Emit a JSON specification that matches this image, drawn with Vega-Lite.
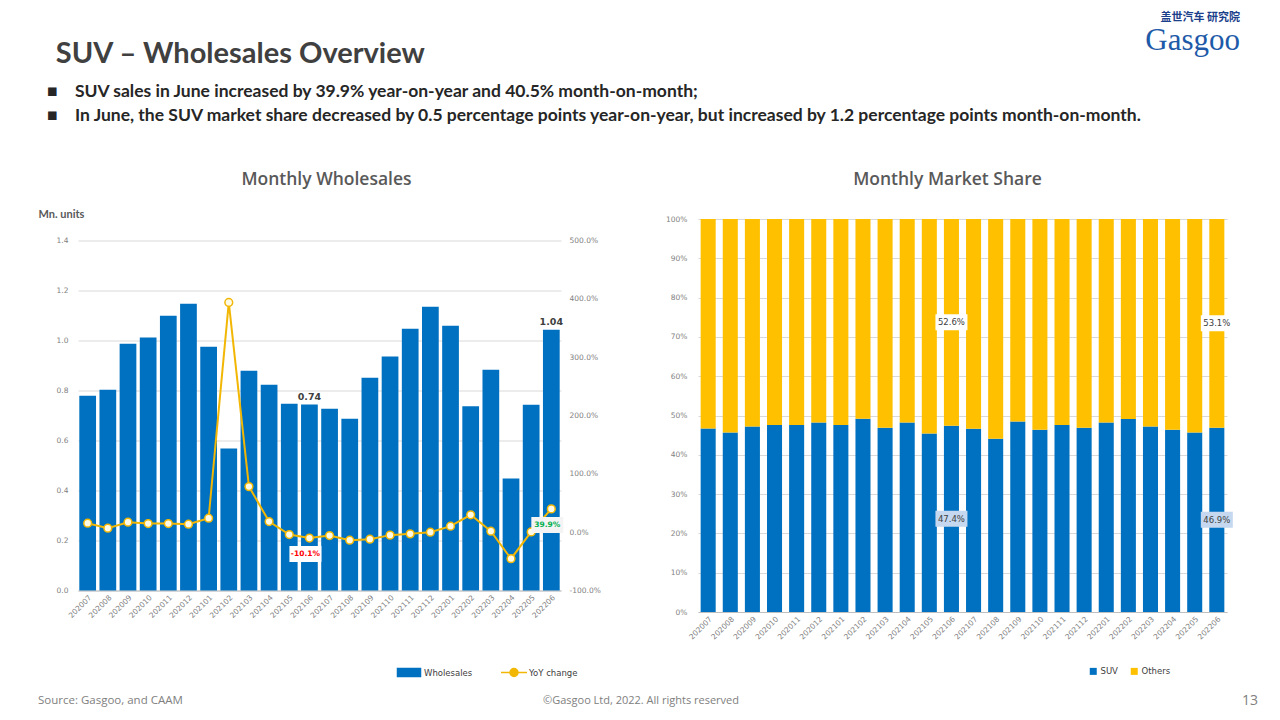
{
  "$schema": "https://vega.github.io/schema/vega-lite/v6.json",
  "background": "white",
  "padding": {"left": 38, "top": 12, "right": 10, "bottom": 5},
  "config": {
    "font": "Lato",
    "view": {"stroke": null},
    "axis": {"labelFont": "DejaVu Sans", "labelFontSize": 7.5, "labelColor": "#7F7F7F", "domain": false, "ticks": false, "gridColor": "#D9D9D9", "gridWidth": 1, "titleFont": "Lato", "labelOverlap": false},
    "legend": {"labelFont": "DejaVu Sans", "labelFontSize": 8.5, "labelColor": "#404040"}
  },
  "title": {
    "text": "\u76d6\u4e16\u6c7d\u8f66 \u7814\u7a76\u9662",
    "subtitle": "Gasgoo",
    "anchor": "end",
    "dx": -18,
    "offset": -16,
    "font": "Noto Sans CJK SC",
    "fontSize": 11,
    "fontWeight": "bold",
    "color": "#1B3F8B",
    "subtitleFont": "Liberation Serif",
    "subtitleFontSize": 31,
    "subtitleColor": "#1E5AA8",
    "subtitlePadding": 3,
    "subtitleLineHeight": 27
  },
  "datasets": {
    "wholesale": [
      {"month": "202007", "wholesales": 0.779, "yoy": 0.154},
      {"month": "202008", "wholesales": 0.803, "yoy": 0.068},
      {"month": "202009", "wholesales": 0.987, "yoy": 0.171},
      {"month": "202010", "wholesales": 1.012, "yoy": 0.147},
      {"month": "202011", "wholesales": 1.099, "yoy": 0.147},
      {"month": "202012", "wholesales": 1.147, "yoy": 0.137},
      {"month": "202101", "wholesales": 0.975, "yoy": 0.240},
      {"month": "202102", "wholesales": 0.568, "yoy": 3.938},
      {"month": "202103", "wholesales": 0.879, "yoy": 0.781},
      {"month": "202104", "wholesales": 0.823, "yoy": 0.182},
      {"month": "202105", "wholesales": 0.747, "yoy": -0.041},
      {"month": "202106", "wholesales": 0.744, "yoy": -0.101},
      {"month": "202107", "wholesales": 0.727, "yoy": -0.058},
      {"month": "202108", "wholesales": 0.687, "yoy": -0.137},
      {"month": "202109", "wholesales": 0.851, "yoy": -0.120},
      {"month": "202110", "wholesales": 0.936, "yoy": -0.051},
      {"month": "202111", "wholesales": 1.047, "yoy": -0.029},
      {"month": "202112", "wholesales": 1.135, "yoy": 0.000},
      {"month": "202201", "wholesales": 1.059, "yoy": 0.103},
      {"month": "202202", "wholesales": 0.737, "yoy": 0.298},
      {"month": "202203", "wholesales": 0.883, "yoy": 0.017},
      {"month": "202204", "wholesales": 0.448, "yoy": -0.455},
      {"month": "202205", "wholesales": 0.743, "yoy": 0.003},
      {"month": "202206", "wholesales": 1.043, "yoy": 0.399}
    ],
    "share": [
      {"month": "202007", "series": "SUV", "share": 0.467}, {"month": "202007", "series": "Others", "share": 0.533},
      {"month": "202008", "series": "SUV", "share": 0.457}, {"month": "202008", "series": "Others", "share": 0.543},
      {"month": "202009", "series": "SUV", "share": 0.472}, {"month": "202009", "series": "Others", "share": 0.528},
      {"month": "202010", "series": "SUV", "share": 0.476}, {"month": "202010", "series": "Others", "share": 0.524},
      {"month": "202011", "series": "SUV", "share": 0.476}, {"month": "202011", "series": "Others", "share": 0.524},
      {"month": "202012", "series": "SUV", "share": 0.482}, {"month": "202012", "series": "Others", "share": 0.518},
      {"month": "202101", "series": "SUV", "share": 0.476}, {"month": "202101", "series": "Others", "share": 0.524},
      {"month": "202102", "series": "SUV", "share": 0.492}, {"month": "202102", "series": "Others", "share": 0.508},
      {"month": "202103", "series": "SUV", "share": 0.469}, {"month": "202103", "series": "Others", "share": 0.531},
      {"month": "202104", "series": "SUV", "share": 0.482}, {"month": "202104", "series": "Others", "share": 0.518},
      {"month": "202105", "series": "SUV", "share": 0.454}, {"month": "202105", "series": "Others", "share": 0.546},
      {"month": "202106", "series": "SUV", "share": 0.474}, {"month": "202106", "series": "Others", "share": 0.526},
      {"month": "202107", "series": "SUV", "share": 0.466}, {"month": "202107", "series": "Others", "share": 0.534},
      {"month": "202108", "series": "SUV", "share": 0.441}, {"month": "202108", "series": "Others", "share": 0.559},
      {"month": "202109", "series": "SUV", "share": 0.485}, {"month": "202109", "series": "Others", "share": 0.515},
      {"month": "202110", "series": "SUV", "share": 0.464}, {"month": "202110", "series": "Others", "share": 0.536},
      {"month": "202111", "series": "SUV", "share": 0.476}, {"month": "202111", "series": "Others", "share": 0.524},
      {"month": "202112", "series": "SUV", "share": 0.469}, {"month": "202112", "series": "Others", "share": 0.531},
      {"month": "202201", "series": "SUV", "share": 0.482}, {"month": "202201", "series": "Others", "share": 0.518},
      {"month": "202202", "series": "SUV", "share": 0.491}, {"month": "202202", "series": "Others", "share": 0.509},
      {"month": "202203", "series": "SUV", "share": 0.472}, {"month": "202203", "series": "Others", "share": 0.528},
      {"month": "202204", "series": "SUV", "share": 0.464}, {"month": "202204", "series": "Others", "share": 0.536},
      {"month": "202205", "series": "SUV", "share": 0.457}, {"month": "202205", "series": "Others", "share": 0.543},
      {"month": "202206", "series": "SUV", "share": 0.469}, {"month": "202206", "series": "Others", "share": 0.531}
    ],
    "footer": [
      {"note": "Source: Gasgoo, and CAAM", "slot": "left"},
      {"note": "\u00a9Gasgoo Ltd,  2022. All rights reserved", "slot": "center"},
      {"note": "13", "slot": "right"}
    ]
  },
  "resolve": {"scale": {"color": "independent"}, "legend": {"color": "independent"}},
  "vconcat": [
    {
      "title": {
        "text": "\u200b\u00a0\u200aSUV \u2013 Wholesales Overview",
        "subtitle": [
          "\u25a0\u2003\u00a0SUV sales in June increased by 39.9% year-on-year and 40.5% month-on-month;",
          "\u25a0\u2003\u00a0In June, the SUV market share decreased by 0.5 percentage points year-on-year, but increased by 1.2 percentage points month-on-month."
        ],
        "anchor": "start",
        "dx": 9,
        "font": "Lato",
        "fontSize": 29,
        "fontWeight": "bold",
        "color": "#404040",
        "subtitleFont": "Lato",
        "subtitleFontSize": 17.5,
        "subtitleFontWeight": "bold",
        "subtitleColor": "#262626",
        "subtitleLineHeight": 24,
        "subtitlePadding": 14,
        "offset": 46
      },
      "spacing": 13,
      "resolve": {"scale": {"color": "independent"}, "legend": {"color": "independent"}},
      "vconcat": [
        {
          "spacing": 137,
          "bounds": "flush",
          "center": true,
          "resolve": {"scale": {"color": "independent"}, "legend": {"color": "independent"}},
          "hconcat": [
            {
              "width": 483,
              "height": 350,
              "title": {"text": "Monthly Wholesales", "font": "Open Sans", "fontSize": 17.5, "fontWeight": 600, "color": "#595959", "offset": 20, "frame": "group", "anchor": "middle", "dx": 7},
              "data": {"name": "wholesale"},
              "layer": [
                {
                  "layer": [
                    {
                      "mark": {"type": "bar"},
                      "encoding": {
                        "x": {"field": "month", "type": "ordinal", "scale": {"paddingInner": 0.17, "paddingOuter": 0.065}, "axis": {"title": null, "labelAngle": -45, "domain": true, "domainColor": "#BFBFBF", "labelPadding": 3}},
                        "y": {"field": "wholesales", "type": "quantitative", "scale": {"domain": [0, 1.4]}, "axis": {"values": [0, 0.2, 0.4, 0.6, 0.8, 1.0, 1.2, 1.4], "format": ".1f", "title": "Mn. units", "titleAngle": 0, "titleX": -40, "titleY": -26, "titleAlign": "left", "titleBaseline": "middle", "titleFontSize": 11, "titleFontWeight": "bold", "titleColor": "#595959", "labelPadding": 10, "grid": true}},
                        "color": {
                          "datum": "Wholesales",
                          "type": "nominal",
                          "scale": {"domain": ["Wholesales", "YoY change"], "range": ["#0070C0", "#F2B705"]},
                          "legend": {
                            "orient": "none", "legendX": 325, "legendY": 426, "direction": "horizontal", "title": null,
                            "symbolSize": 100, "labelOffset": 9, "columnPadding": 25, "labelFontSize": 8.5,
                            "encode": {"symbols": {"update": {
                              "shape": [{"test": "datum.value === 'YoY change'", "value": "M-2.6,0H-0.8A0.8,0.8 0 1,1 0.8,0H2.6M0.8,0A0.8,0.8 0 1,1 -0.8,0"}, {"value": "M-2.3,-0.8H2.3V0.8H-2.3Z"}],
                              "fill": [{"test": "datum.value === 'YoY change'", "value": "#FFFBE6"}, {"value": "#0070C0"}],
                              "stroke": [{"test": "datum.value === 'YoY change'", "value": "#F2B705"}, {"value": "transparent"}],
                              "strokeWidth": {"value": 1.5},
                              "opacity": {"value": 1}
                            }}}
                          }
                        }
                      }
                    },
                    {
                      "transform": [{"filter": "datum.month == '202106' || datum.month == '202206'"}],
                      "mark": {"type": "text", "dy": -8, "font": "DejaVu Sans", "fontSize": 9.5, "fontWeight": "bold", "color": "#404040"},
                      "encoding": {
                        "x": {"field": "month", "type": "ordinal"},
                        "y": {"field": "wholesales", "type": "quantitative"},
                        "text": {"field": "wholesales", "type": "quantitative", "format": ".2f"}
                      }
                    }
                  ]
                },
                {
                  "encoding": {
                    "x": {"field": "month", "type": "ordinal"},
                    "y": {"field": "yoy", "type": "quantitative", "scale": {"domain": [-1, 5]}, "axis": {"orient": "right", "values": [-1, 0, 1, 2, 3, 4, 5], "format": ".1%", "labelExpr": "replace(datum.label, '\u2212', '-')", "grid": false, "title": null, "labelPadding": 8}}
                  },
                  "layer": [
                    {
                      "mark": {"type": "line", "strokeWidth": 2},
                      "encoding": {"color": {"datum": "YoY change", "type": "nominal"}}
                    },
                    {
                      "mark": {"type": "point", "filled": true, "fill": "#FFFBE6", "stroke": "#F2B705", "strokeWidth": 1.5, "size": 60, "opacity": 1}
                    },
                    {
                      "transform": [{"filter": "datum.month == '202106' || datum.month == '202206'"}],
                      "mark": {"type": "point", "shape": "M-1.6,-0.8H1.6V0.8H-1.6Z", "size": 400, "filled": true, "opacity": 1, "xOffset": -4, "yOffset": 16, "strokeWidth": 0},
                      "encoding": {"fill": {"condition": {"test": "datum.yoy < 0", "value": "#FFFFFF"}, "value": "#F4F4F4"}}
                    },
                    {
                      "transform": [
                        {"filter": "datum.month == '202106' || datum.month == '202206'"},
                        {"calculate": "replace(format(datum.yoy, '.1%'), '\u2212', '-')", "as": "yoyLabel"}
                      ],
                      "mark": {"type": "text", "dx": -4, "dy": 16, "font": "DejaVu Sans", "fontSize": 7.5, "fontWeight": "bold"},
                      "encoding": {
                        "text": {"field": "yoyLabel"},
                        "color": {"condition": {"test": "datum.yoy < 0", "value": "#FF0000"}, "value": "#00B050"}
                      }
                    }
                  ]
                }
              ],
              "resolve": {"scale": {"y": "independent"}}
            },
            {
              "width": 529,
              "height": 393,
              "title": {"text": "Monthly Market Share", "font": "Open Sans", "fontSize": 17.5, "fontWeight": 600, "color": "#595959", "offset": 27, "frame": "group", "anchor": "middle", "dx": -15},
              "data": {"name": "share"},
              "encoding": {
                "x": {"field": "month", "type": "ordinal", "scale": {"paddingInner": 0.32, "paddingOuter": 0.12}, "axis": {"title": null, "labelAngle": -45, "domain": true, "domainColor": "#BFBFBF", "labelPadding": 3}}
              },
              "layer": [
                {
                  "mark": {"type": "bar"},
                  "encoding": {
                    "y": {"field": "share", "type": "quantitative", "stack": "zero", "scale": {"domain": [0, 1]}, "axis": {"values": [0, 0.1, 0.2, 0.3, 0.4, 0.5, 0.6, 0.7, 0.8, 0.9, 1.0], "format": ".0%", "title": null, "labelPadding": 11, "grid": true}},
                    "color": {
                      "field": "series", "type": "nominal",
                      "scale": {"domain": ["SUV", "Others"], "range": ["#0070C0", "#FFC000"]},
                      "legend": {"orient": "none", "legendX": 391, "legendY": 448, "direction": "horizontal", "title": null, "symbolType": "square", "symbolSize": 49, "symbolStrokeWidth": 0, "labelOffset": 3, "columnPadding": 12, "labelFontSize": 8.5}
                    },
                    "order": {"field": "series", "sort": "descending"}
                  }
                },
                {
                  "transform": [
                    {"filter": "datum.month == '202106' || datum.month == '202206'"},
                    {"window": [{"op": "sum", "field": "share", "as": "cum"}], "groupby": ["month"], "sort": [{"field": "series", "order": "descending"}]},
                    {"calculate": "datum.cum - datum.share / 2", "as": "mid"}
                  ],
                  "layer": [
                    {
                      "mark": {"type": "point", "shape": "M-1.6,-0.8H1.6V0.8H-1.6Z", "size": 400, "filled": true, "opacity": 1, "strokeWidth": 0},
                      "encoding": {
                        "y": {"field": "mid", "type": "quantitative", "axis": {"values": [0, 0.1, 0.2, 0.3, 0.4, 0.5, 0.6, 0.7, 0.8, 0.9, 1.0], "format": ".0%", "title": null, "labelPadding": 11, "grid": true}},
                        "fill": {"condition": {"test": "datum.series === 'SUV'", "value": "#C5D8EF"}, "value": "#FFFFFF"}
                      }
                    },
                    {
                      "mark": {"type": "text", "font": "DejaVu Sans", "fontSize": 8.5, "color": "#404040"},
                      "encoding": {
                        "y": {"field": "mid", "type": "quantitative", "axis": {"values": [0, 0.1, 0.2, 0.3, 0.4, 0.5, 0.6, 0.7, 0.8, 0.9, 1.0], "format": ".0%", "title": null, "labelPadding": 11, "grid": true}},
                        "text": {"field": "share", "type": "quantitative", "format": ".1%"}
                      }
                    }
                  ]
                }
              ]
            }
          ]
        },
        {
          "width": 1180,
          "height": 1,
          "data": {"name": "footer"},
          "encoding": {
            "x": {"field": "slot", "type": "nominal", "scale": {"type": "point", "domain": ["left", "center", "right"], "padding": 0}, "axis": null}
          },
          "layer": [
            {
              "transform": [{"filter": "datum.slot == 'left'"}],
              "mark": {"type": "text", "align": "left", "dx": -40, "font": "Open Sans", "fontSize": 11.5, "color": "#808080"},
              "encoding": {"text": {"field": "note"}}
            },
            {
              "transform": [{"filter": "datum.slot == 'center'"}],
              "mark": {"type": "text", "align": "center", "dx": -27, "font": "Open Sans", "fontSize": 11, "color": "#808080"},
              "encoding": {"text": {"field": "note"}}
            },
            {
              "transform": [{"filter": "datum.slot == 'right'"}],
              "mark": {"type": "text", "align": "right", "font": "Open Sans", "fontSize": 14, "color": "#808080"},
              "encoding": {"text": {"field": "note"}}
            }
          ]
        }
      ]
    }
  ]
}
